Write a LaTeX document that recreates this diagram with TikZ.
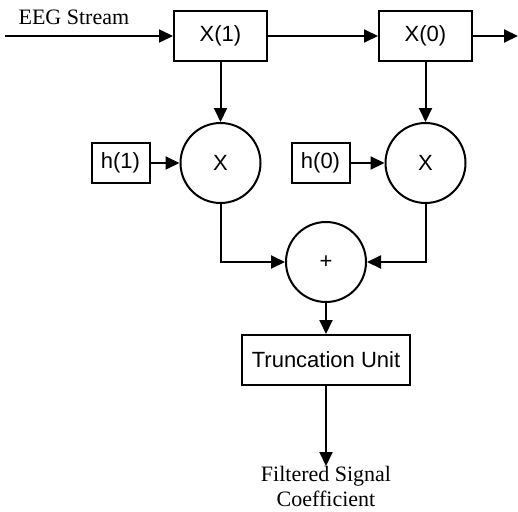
\documentclass[tikz,border=0pt]{standalone}
\usepackage{fontspec}
\setmainfont{Liberation Serif}
\setsansfont{Liberation Sans}
\usetikzlibrary{arrows.meta,positioning}

\begin{document}
\begin{tikzpicture}[
    x=1pt, y=-1pt,
    node distance=60pt and 30pt,
    reg/.style={rectangle, draw, line width=2pt, inner sep=0pt, minimum height=50pt, minimum width=93pt, font=\sffamily\fontsize{22}{26}\selectfont},
    coef/.style={rectangle, draw, line width=2pt, inner sep=0pt, minimum height=40pt, minimum width=58pt, font=\sffamily\fontsize{22}{26}\selectfont},
    op/.style={circle, draw, line width=2pt, inner sep=0pt, minimum size=80pt, font=\sffamily\fontsize{22}{26}\selectfont},
    lbl/.style={inner sep=0pt, align=center, font=\fontsize{22}{25}\selectfont},
    arrow/.style={-{Triangle[length=14pt, width=13pt]}, line width=2pt}
]
    \useasboundingbox (0,0) rectangle (518,511);

    \node [reg] (x1) at (220.5,36) {X(1)};
    \node [reg, right=110pt of x1] (x0) {X(0)};

    \node [op, below=of x1] (m1) {X};
    \node [op, below=of x0] (m0) {X};
    \node [coef, left=29pt of m1] (h1) {h(1)};
    \node [coef, left=34pt of m0] (h0) {h(0)};

    \node [op] (add) at (326,262) {+};
    \node [reg, minimum width=168pt, below=31pt of add] (trunc) {Truncation Unit};
    \node [lbl, below=80pt of trunc] (fout) {Filtered Signal\\Coefficient};

    \coordinate (in) at (5,36);
    \coordinate (out) at (518,36);

    \draw [arrow] (in) -- node [lbl, pos=0.41, above=10pt] (eeg) {EEG Stream} (x1);
    \draw [arrow] (x1) -- (x0);
    \draw [arrow] (x0) -- (out);
    \draw [arrow] (x1) -- (m1);
    \draw [arrow] (x0) -- (m0);
    \draw [arrow] (h1) -- (m1);
    \draw [arrow] (h0) -- (m0);
    \draw [arrow] (m1) |- (add);
    \draw [arrow] (m0) |- (add);
    \draw [arrow] (add) -- (trunc);
    \draw [arrow] (trunc) -- (fout);
\end{tikzpicture}
\end{document}
